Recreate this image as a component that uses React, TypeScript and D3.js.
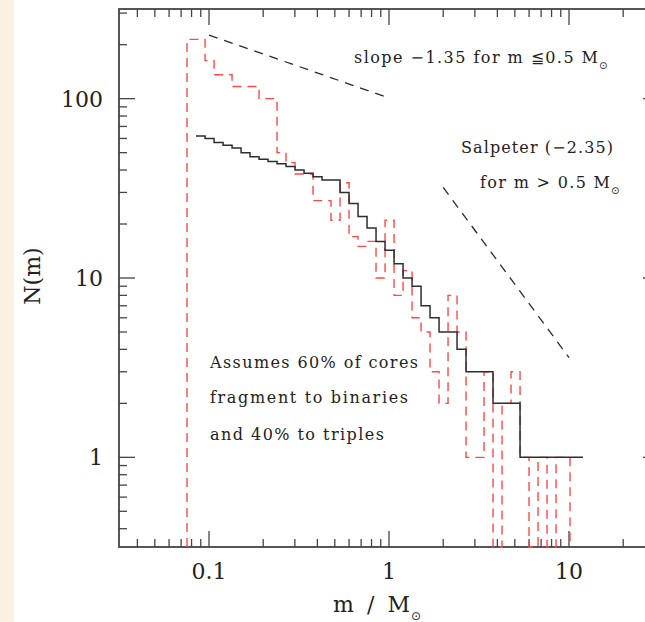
import * as d3 from "d3";

// mass function: N(m) per 0.05 dex bin, simulated cores -> stars
const X_DOMAIN = [10 ** -1.5, 10 ** 1.5];
const Y_DOMAIN = [10 ** -0.5, 10 ** 2.5];

// red dashed: fragmented into binaries/triples (bin edges in M_sun, counts)
const redEdges = [
  0.0755, 0.0951, 0.1067, 0.1343, 0.1897, 0.2388, 0.2679, 0.3006, 0.3784, 0.4764,
  0.5346, 0.5998, 0.673, 0.7551, 0.8472, 0.9506, 1.067, 1.197, 1.343, 1.507,
  1.69, 1.897, 2.128, 2.388, 2.679, 3.373, 3.784, 4.246, 4.764, 5.346,
  5.998, 6.73, 7.551, 8.472, 10.13,
];
const redCounts = [
  214, 163, 136, 117, 100, 50, 44, 38, 27, 21,
  34, 17, 15, 16, 10, 21, 8, 11, 6, 5,
  3, 2, 8, 5, 1, 3, 0, 2, 3, 1,
  0, 1, 0, 1,
];

// black solid: core mass function
const blackEdges = [
  0.0847, 0.0951, 0.1067, 0.1197, 0.1343, 0.1507, 0.169, 0.1897, 0.2128, 0.2388,
  0.2679, 0.3006, 0.3373, 0.3784, 0.4246, 0.5346, 0.5998, 0.673, 0.7551, 0.8472,
  0.9506, 1.067, 1.197, 1.343, 1.507, 1.69, 1.897, 2.388, 2.679, 3.784,
  5.346, 11.97,
];
const blackCounts = [
  62, 60, 57, 55, 53, 50, 47.5, 46, 44.6, 43.3,
  41.8, 40, 38.4, 36.7, 35.2, 30, 26, 22, 19, 16,
  14.3, 12, 10, 9, 7, 6, 5, 4, 3, 2,
  1,
];

// reference power laws
const slopeMass = [0.1, 1];
const slopeN = [226, 101];
const salpeterMass = [2, 10];
const salpeterN = [32, 3.6];

const xTickLabels = [0.1, 1, 10];
const yTickLabels = [1, 10, 100];

const FONT = "'DejaVu Serif', serif";
const SYM = "'DejaVu Sans', sans-serif";
const INK = "#222";
const AXIS = "#444";

function stepPoints(edges: number[], counts: number[], floor: number, closed: boolean) {
  const pts: [number, number][] = [];
  if (closed) pts.push([edges[0], floor]);
  counts.forEach((c, i) => pts.push([edges[i], Math.max(c, floor)]));
  const last = counts[counts.length - 1];
  pts.push([edges[edges.length - 1], Math.max(last, floor)]);
  if (closed) pts.push([edges[edges.length - 1], floor]);
  return pts;
}

export default function App() {
  const width = 645;
  const height = 622;
  const x = d3.scaleLog().domain(X_DOMAIN).range([119, 659]);
  const y = d3.scaleLog().domain(Y_DOMAIN).range([547, 9]);
  const [x0, x1] = x.range();
  const [yb, yt] = y.range();

  const step = d3
    .line<[number, number]>()
    .x((d) => x(d[0]))
    .y((d) => y(d[1]))
    .curve(d3.curveStepAfter);
  const straight = d3
    .line<[number, number]>()
    .x((d) => x(d[0]))
    .y((d) => y(d[1]));

  const redPath = step(stepPoints(redEdges, redCounts, Y_DOMAIN[0], true));
  const blackPath = step(stepPoints(blackEdges, blackCounts, Y_DOMAIN[0], false));
  const slopePath = straight(slopeMass.map((m, i) => [m, slopeN[i]]));
  const salpPath = straight(salpeterMass.map((m, i) => [m, salpeterN[i]]));

  const isMajor = (v: number) => Math.abs(Math.log10(v) - Math.round(Math.log10(v))) < 1e-6;
  const xTicks = x.ticks();
  const yTicks = y.ticks();

  return (
    <div style={{ position: "absolute", left: 0, top: 0 }}>
      <svg width={width} height={height} style={{ display: "block", background: "#fff" }}>
        <rect x={0} y={0} width={14} height={height} fill="#fbf1e2" />

        {/* frame */}
        <rect x={x0} y={yt} width={x1 - x0} height={yb - yt} fill="none" stroke={AXIS} strokeWidth={1.8} />

        {/* ticks on all four sides */}
        <g stroke={AXIS} strokeWidth={1.3}>
          {xTicks.map((v, i) => {
            const len = isMajor(v) ? 16 : 8;
            const px = x(v);
            return (
              <g key={i}>
                <line x1={px} x2={px} y1={yb} y2={yb - len} />
                <line x1={px} x2={px} y1={yt} y2={yt + len} />
              </g>
            );
          })}
          {yTicks.map((v, i) => {
            const len = isMajor(v) ? 16 : 8;
            const py = y(v);
            return (
              <g key={i}>
                <line x1={x0} x2={x0 + len} y1={py} y2={py} />
                <line x1={x1} x2={x1 - len} y1={py} y2={py} />
              </g>
            );
          })}
        </g>

        {/* tick labels */}
        <g fontFamily={FONT} fontSize={22} fill={INK}>
          {xTickLabels.map((v) => (
            <text key={v} x={x(v)} y={579} textAnchor="middle">
              {String(v)}
            </text>
          ))}
          {yTickLabels.map((v) => (
            <text key={v} x={103} y={y(v) + 8} textAnchor="end">
              {String(v)}
            </text>
          ))}
        </g>

        {/* axis titles */}
        <text
          transform="translate(40,276) rotate(-90)"
          textAnchor="middle"
          fontFamily={FONT}
          fontSize={22}
          fill={INK}
        >
          N(m)
        </text>
        <text x={333} y={612} fontFamily={FONT} fontSize={22} fill={INK} textLength={77} lengthAdjust="spacing">
          m / M
        </text>
        <text x={411} y={620} fontFamily={SYM} fontSize={12} fill={INK}>
          ⊙
        </text>

        {/* histograms */}
        <path d={redPath ?? ""} fill="none" stroke="#ff4848" strokeWidth={1.4} strokeDasharray="9,6" />
        <path d={blackPath ?? ""} fill="none" stroke="#2e2e2e" strokeWidth={1.5} />

        {/* reference slopes */}
        <path d={slopePath ?? ""} fill="none" stroke="#2a2a2a" strokeWidth={1.3} strokeDasharray="9,7" />
        <path d={salpPath ?? ""} fill="none" stroke="#2a2a2a" strokeWidth={1.3} strokeDasharray="9,7" />

        {/* annotations */}
        <g fontFamily={FONT} fontSize={16} fill={INK}>
          <text x={354} y={63} textLength={244} lengthAdjust="spacing">
            slope −1.35 for m ≦0.5 M
          </text>
          <text x={461} y={153} textLength={152} lengthAdjust="spacing">
            Salpeter (−2.35)
          </text>
          <text x={480} y={188} textLength={130} lengthAdjust="spacing">
            for m &gt; 0.5 M
          </text>
          <text x={210} y={368} textLength={208} lengthAdjust="spacing">
            Assumes 60% of cores
          </text>
          <text x={210} y={403} textLength={198} lengthAdjust="spacing">
            fragment to binaries
          </text>
          <text x={210} y={440} textLength={174} lengthAdjust="spacing">
            and 40% to triples
          </text>
        </g>
        <g fontFamily={SYM} fontSize={10} fill={INK}>
          <text x={599} y={69}>⊙</text>
          <text x={611} y={194}>⊙</text>
        </g>
      </svg>
    </div>
  );
}
